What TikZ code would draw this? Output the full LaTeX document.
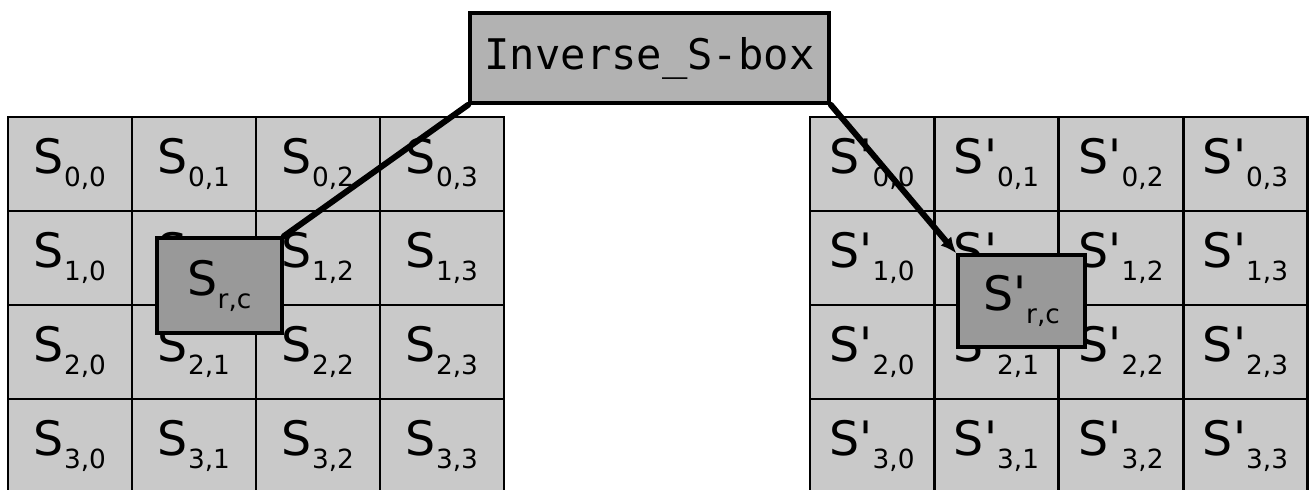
\documentclass[tikz,border=0pt]{standalone}
\usepackage{fontspec}
\setmainfont{DejaVu Sans}
\setmonofont{DejaVu Sans Mono}
\usetikzlibrary{arrows.meta}
\colorlet{cellgray}{black!21}
\colorlet{boxgray}{black!30}
\colorlet{pickgray}{black!40}
\tikzset{>=latex}
\tikzset{
  cell/.style={draw,line width=1.6pt,fill=cellgray,inner sep=0pt,
               minimum width=2.48cm,minimum height=1.88cm,
               font=\fontsize{27}{27}\selectfont},
  pick/.style={draw,line width=2pt,fill=pickgray,inner sep=0pt,
               font=\fontsize{27}{27}\selectfont},
  link/.style={line width=3.4pt,line cap=round}
}
\newcommand\ssub[1]{\raisebox{-0.5ex}{\fontsize{15}{15}\selectfont #1}}
\newcommand\sprime{\textquotesingle}

\begin{document}
\begin{tikzpicture}[x=0.02cm,y=-0.02cm]
  \useasboundingbox (0,0) rectangle (1313,490);
  \clip (0,0) rectangle (1313,490);

  % STATE MATRICES
  \foreach \r in {0,...,3}{
    \foreach \c in {0,...,3}{
      \node[cell] (s-\r-\c) at ({70+124*\c},{164+94*\r}) {S\ssub{\r,\c}};
      \node[cell] (t-\r-\c) at ({872+124.5*\c},{164+94*\r}) {S\sprime\ssub{\r,\c}};
    }
  }

  % SELECTED BYTES
  \node[pick,minimum width=2.5cm,minimum height=1.9cm] (src) at (219.5,285.5) {S\ssub{r,c}};
  \node[pick,minimum width=2.54cm,minimum height=1.84cm] (dst) at (1021.5,301) {S\sprime\ssub{r,c}};

  % LOOKUP
  \node[draw,line width=2pt,fill=boxgray,minimum width=7.18cm,minimum height=1.8cm,
        font=\ttfamily\fontsize{24}{24}\selectfont] (sbox) at (649.5,58) {Inverse\_S-box};
  \draw[link] (sbox.south west) -- (src.north east);
  \draw[link,-{Latex[length=9pt,width=8pt]}] (sbox.south east) -- (dst.north west);
\end{tikzpicture}
\end{document}
